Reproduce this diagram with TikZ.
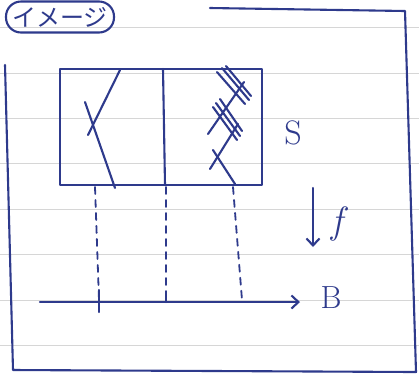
\documentclass[tikz,border=0pt]{standalone}
\usepackage{fontspec}
\newfontfamily\jpfont{Noto Sans CJK JP}
\usepackage{xcolor}
\usepackage{tikz}
\usetikzlibrary{arrows.meta}
\definecolor{ink}{HTML}{2E3A8C}
\definecolor{riga}{HTML}{D6D6D6}

\begin{document}
\begin{tikzpicture}[x=1pt, y=-1pt, >={Straight Barb[length=7pt,width=13pt]},
    line cap=round, line join=round,
    tratto/.style={draw=ink, line width=2.1pt},
    proiezione/.style={tratto, line width=1.8pt, dash pattern=on 7pt off 6pt},
    scritta/.style={text=ink, inner sep=0pt}]

\useasboundingbox (0,0) rectangle (419,376);
\fill[white] (0,0) rectangle (419,376);

% Righe del quaderno
\foreach \y in {27,73,118,163,209,254,300,345}
  \draw[riga, line width=0.8pt] (0,\y) -- (419,\y);

% Titolo
\node[tratto, rounded corners=15pt, minimum width=108pt, minimum height=31pt, scritta]
  (titolo) at (60,17) {\jpfont\fontsize{24}{24}\selectfont イメージ};

% Cornice
\draw[tratto] (210,8) -- (405,11) -- (416,372) -- (13,370) -- (5,65);

% Sistema
\draw[tratto] (60,69) rectangle (262,185);
\draw[tratto] (163,69) -- (165,185);

% Pareti a sinistra
\draw[tratto] (120,70) -- (88,135);
\draw[tratto] (85,102) -- (115,188);

% Pareti a destra
\draw[tratto] (217,72) -- (245,104);
\draw[tratto] (222,68) -- (249,100);
\draw[tratto] (226,66) -- (251,96);
\draw[tratto] (244,82) -- (208,134);
\draw[tratto] (213,107) -- (237,140);
\draw[tratto] (216,103) -- (240,136);
\draw[tratto] (220,99) -- (242,131);
\draw[tratto] (238,124) -- (210,169);
\draw[tratto] (213,150) -- (235,184);

% Proiezioni
\draw[proiezione] (95,187) -- (99,300);
\draw[proiezione] (166,187) -- (166,300);
\draw[proiezione] (233,187) -- (242,300);

% Asse
\coordinate (asseA) at (40,302);
\coordinate (asseB) at (300,302);
\draw[tratto, ->] (asseA) -- (asseB);
\draw[tratto] (99,290) -- (99,312);
\draw[tratto] (166,292) -- (166,302);

% Freccia f
\coordinate (fA) at (313,188);
\coordinate (fB) at (313,247);
\draw[tratto, ->] (fA) -- (fB);

% Etichette
\node[scritta] (esse) at (293,133) {\fontsize{34}{34}\selectfont S};
\node[scritta] (effe) at (337,224) {\fontsize{38}{38}\selectfont\itshape f};
\node[scritta] (bi) at (331,298) {\fontsize{32}{32}\selectfont B};

\end{tikzpicture}
\end{document}
